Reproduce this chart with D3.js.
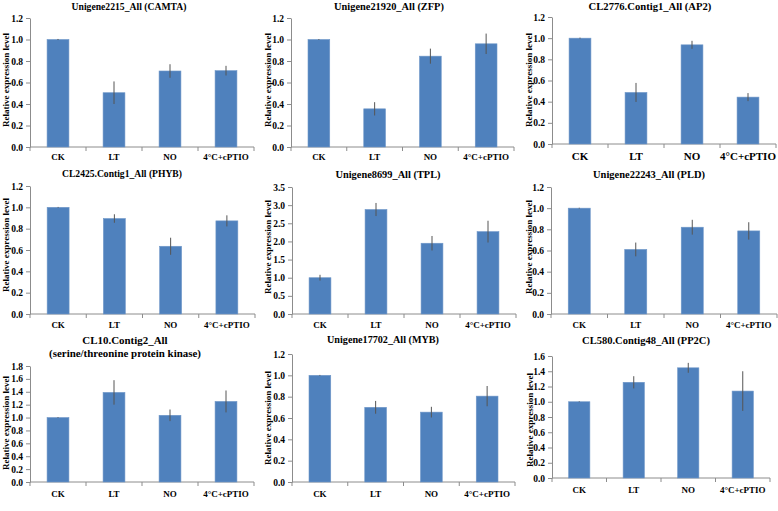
<!DOCTYPE html>
<html>
<head>
<meta charset="utf-8">
<script src="https://cdn.jsdelivr.net/npm/d3@7"></script>
<style>
  html, body { margin: 0; padding: 0; background: #fff; }
  svg { display: block; }
  text { font-family: "Liberation Serif", "Times New Roman", serif; font-weight: bold; fill: #000; }
</style>
</head>
<body>
<svg id="chart" width="778" height="511"></svg>
<script>
// ---------- data ----------
const categories = ["CK", "LT", "NO", "4°C+cPTIO"];
const yAxisTitle = "Relative expression level";
const geneTitles = [
  ["Unigene2215_All (CAMTA)"],
  ["Unigene21920_All (ZFP)"],
  ["CL2776.Contig1_All (AP2)"],
  ["CL2425.Contig1_All (PHYB)"],
  ["Unigene8699_All (TPL)"],
  ["Unigene22243_All (PLD)"],
  ["CL10.Contig2_All", "(serine/threonine protein kinase)"],
  ["Unigene17702_All (MYB)"],
  ["CL580.Contig48_All (PP2C)"]
];
const meanValues = [
  [1.0, 0.505, 0.707, 0.71],
  [1.0, 0.355, 0.845, 0.96],
  [1.0, 0.487, 0.937, 0.443],
  [1.0, 0.895, 0.635, 0.873],
  [1.0, 2.88, 1.95, 2.27],
  [1.0, 0.61, 0.82, 0.785],
  [1.0, 1.39, 1.035, 1.25],
  [1.0, 0.70, 0.655, 0.805],
  [1.0, 1.255, 1.445, 1.14]
];
const errorValues = [
  [0.005, 0.105, 0.063, 0.045],
  [0.004, 0.062, 0.07, 0.095],
  [0.005, 0.09, 0.038, 0.038],
  [0.004, 0.04, 0.08, 0.052],
  [0.08, 0.18, 0.2, 0.3],
  [0.004, 0.065, 0.07, 0.082],
  [0.006, 0.19, 0.09, 0.17],
  [0.004, 0.06, 0.05, 0.095],
  [0.005, 0.08, 0.065, 0.26]
];
const yMaxValues = [1.2, 1.2, 1.2, 1.2, 3.5, 1.2, 1.8, 1.2, 1.6];
const yStepValues = [0.2, 0.2, 0.2, 0.2, 0.5, 0.2, 0.2, 0.2, 0.2];

// ---------- layout (pixel geometry per panel) ----------
const layout = [
  {left: 30, right: 254, top: 18, bottom: 147, titleX: 129, titleY: 10, titleW: 115, labelY: 160, yTitleX: 6, yTitleY: 80, labelSize: 9},
  {left: 291, right: 514, top: 18, bottom: 147, titleX: 389, titleY: 10, titleW: 110, labelY: 160, yTitleX: 268, yTitleY: 80, labelSize: 9},
  {left: 552, right: 776, top: 17, bottom: 144, titleX: 650, titleY: 10, titleW: 123, labelY: 160, yTitleX: 529, yTitleY: 80, labelSize: 11},
  {left: 30, right: 255, top: 186, bottom: 314, titleX: 122, titleY: 177, titleW: 120, labelY: 328, yTitleX: 6, yTitleY: 245, labelSize: 9},
  {left: 292, right: 516, top: 187, bottom: 314, titleX: 388, titleY: 178, titleW: 105, labelY: 328, yTitleX: 268, yTitleY: 247, labelSize: 9},
  {left: 551, right: 777, top: 187, bottom: 314, titleX: 649, titleY: 178, titleW: 112, labelY: 328, yTitleX: 529, yTitleY: 247, labelSize: 9},
  {left: 30, right: 254, top: 366, bottom: 482, titleX: 125, titleY: 344, titleY2: 357, titleW: 152, labelY: 497, yTitleX: 6, yTitleY: 423, labelSize: 9},
  {left: 292, right: 515, top: 354, bottom: 482, titleX: 383, titleY: 343, titleW: 112, labelY: 497, yTitleX: 268, yTitleY: 418, labelSize: 9},
  {left: 552, right: 770, top: 356, bottom: 478, titleX: 646, titleY: 344, titleW: 128, labelY: 493, yTitleX: 530, yTitleY: 420, labelSize: 9}
];

const svg = d3.select("#chart");
const axisColor = "#8c8c8c";
const barColor = "#4f81bd";

layout.forEach((L, i) => {
  const g = svg.append("g");
  const x = d3.scaleBand().domain(categories).range([L.left, L.right]).padding(0);
  const y = d3.scaleLinear().domain([0, yMaxValues[i]]).range([L.bottom, L.top]);
  const ticks = d3.range(0, yMaxValues[i] + 1e-9, yStepValues[i]);

  // y axis
  const yAxis = g.append("g")
    .attr("transform", `translate(${L.left},0)`)
    .call(d3.axisLeft(y).tickValues(ticks).tickFormat(d3.format(".1f")).tickSize(4).tickSizeOuter(0).tickPadding(3));
  yAxis.select(".domain").attr("stroke", axisColor);
  yAxis.selectAll(".tick line").attr("stroke", axisColor);
  yAxis.selectAll(".tick text")
    .style("font-family", '"Liberation Serif", serif')
    .style("font-weight", "bold")
    .style("font-size", "9.5px")
    .attr("fill", "#000");

  // x axis baseline + ticks at band boundaries
  g.append("line")
    .attr("x1", L.left).attr("x2", L.right)
    .attr("y1", y(0)).attr("y2", y(0))
    .attr("stroke", axisColor);
  const bounds = categories.map(c => x(c)).concat([x(categories[categories.length - 1]) + x.bandwidth()]);
  g.selectAll(".xt").data(bounds).enter().append("line")
    .attr("x1", d => d).attr("x2", d => d)
    .attr("y1", y(0)).attr("y2", y(0) + 4)
    .attr("stroke", axisColor);

  // bars
  const bw = x.bandwidth() * 0.39;
  const rows = categories.map((c, k) => ({c, v: meanValues[i][k], e: errorValues[i][k]}));
  g.selectAll(".bar").data(rows).enter().append("rect")
    .attr("x", d => x(d.c) + x.bandwidth() / 2 - bw / 2)
    .attr("width", bw)
    .attr("y", d => y(d.v))
    .attr("height", d => y(0) - y(d.v))
    .attr("fill", barColor)
    .attr("stroke", "#6f97c8")
    .attr("stroke-width", 0.6);

  // error bars
  g.selectAll(".err").data(rows).enter().append("line")
    .attr("x1", d => x(d.c) + x.bandwidth() / 2)
    .attr("x2", d => x(d.c) + x.bandwidth() / 2)
    .attr("y1", d => y(d.v + d.e))
    .attr("y2", d => y(d.v - d.e))
    .attr("stroke", "#555")
    .attr("stroke-width", 1);

  // category labels
  g.selectAll(".cat").data(categories).enter().append("text")
    .attr("x", d => x(d) + x.bandwidth() / 2)
    .attr("y", L.labelY)
    .attr("text-anchor", "middle")
    .style("font-size", L.labelSize + "px")
    .text(d => d);

  // title (font size fitted to the measured title width)
  const lines = geneTitles[i];
  const titleNodes = lines.map((t, k) => g.append("text")
    .attr("x", L.titleX)
    .attr("y", k === 0 ? L.titleY : L.titleY2)
    .attr("text-anchor", "middle")
    .style("font-size", "10.5px")
    .text(t));
  const widest = d3.max(titleNodes, n => n.node().getComputedTextLength());
  const fs = Math.max(9, Math.min(11.5, 10.5 * L.titleW / widest));
  titleNodes.forEach(n => n.style("font-size", fs.toFixed(2) + "px"));

  // y axis title
  g.append("text")
    .attr("transform", `translate(${L.yTitleX},${L.yTitleY}) rotate(-90)`)
    .attr("text-anchor", "middle")
    .attr("dominant-baseline", "central")
    .style("font-size", "9px")
    .text(yAxisTitle);
});
</script>
</body>
</html>
